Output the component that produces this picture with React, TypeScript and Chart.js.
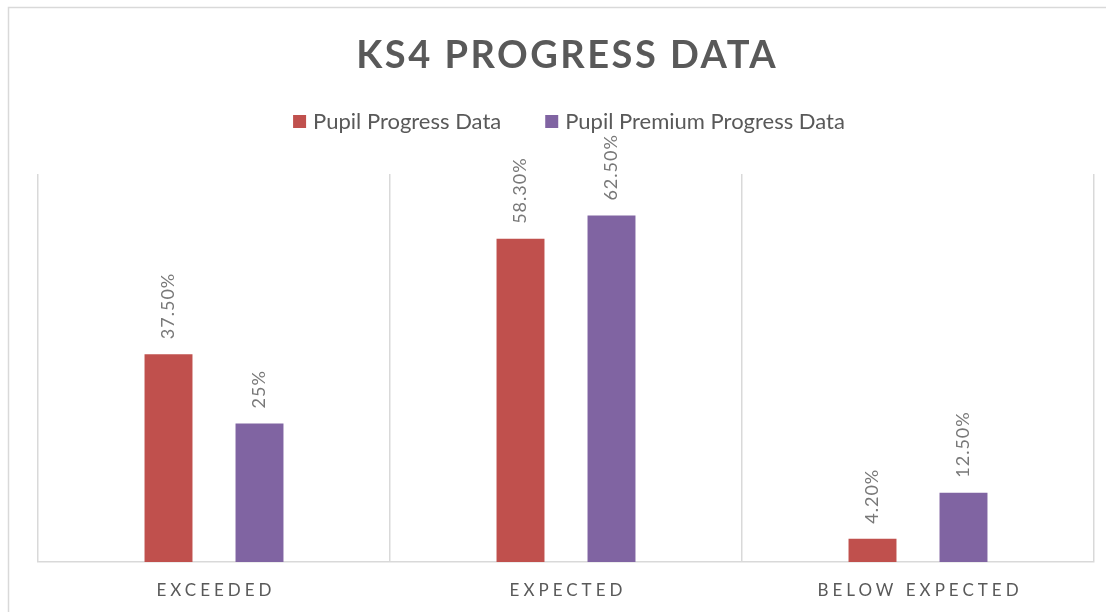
import React, { useEffect, useRef } from "react";
import { Chart, registerables } from "chart.js";

Chart.register(...registerables);

const chartTitle = "KS4 PROGRESS DATA";
const categories = ["EXCEEDED", "EXPECTED", "BELOW EXPECTED"];
const seriesNames = ["Pupil Progress Data", "Pupil Premium Progress Data"];
const pupilProgress = [37.5, 58.3, 4.2];
const pupilPremium = [25, 62.5, 12.5];
const pupilProgressLabels = ["37.50%", "58.30%", "4.20%"];
const pupilPremiumLabels = ["25%", "62.50%", "12.50%"];
const seriesColors = ["#C0504D", "#8064A2"];

const FONT = "Lato, 'Open Sans', sans-serif";
const TEXT = "#595959";
const LABEL = "#787878";
const GRID = "#D9D9D9";

function drawSpaced(ctx: CanvasRenderingContext2D, text: string, x: number, y: number, spacing: number) {
  (ctx as any).letterSpacing = spacing + "px";
  ctx.textAlign = "center";
  ctx.fillText(text, x + spacing / 2, y);
  (ctx as any).letterSpacing = "0px";
}

const decorPlugin = {
  id: "decor",
  afterDraw(chart: any) {
    const ctx: CanvasRenderingContext2D = chart.ctx;
    const area = chart.chartArea;
    ctx.save();
    // outer border
    ctx.strokeStyle = GRID;
    ctx.lineWidth = 1.5;
    ctx.strokeRect(8.5, 7.5, 1130, 640);

    const cx = (area.left + area.right) / 2;
    // title
    ctx.fillStyle = TEXT;
    ctx.font = `bold 38px ${FONT}`;
    ctx.textBaseline = "alphabetic";
    drawSpaced(ctx, chartTitle, cx, 68, 2.5);

    // legend
    ctx.font = `22px ${FONT}`;
    const box = 13;
    const gap = 7;
    const itemGap = 44;
    const widths = seriesNames.map((n) => ctx.measureText(n).width);
    const total = widths.reduce((a, w) => a + box + gap + w, 0) + itemGap * (seriesNames.length - 1);
    let x = cx + 3 - total / 2;
    ctx.textAlign = "left";
    ctx.textBaseline = "middle";
    seriesNames.forEach((n, i) => {
      ctx.fillStyle = seriesColors[i];
      ctx.fillRect(x, 115, box, box);
      x += box + gap;
      ctx.fillStyle = TEXT;
      ctx.fillText(n, x, 122);
      x += widths[i] + itemGap;
    });

    // category labels
    const xs = chart.scales.x;
    ctx.font = `17px ${FONT}`;
    ctx.fillStyle = TEXT;
    ctx.textBaseline = "alphabetic";
    categories.forEach((c, i) => {
      drawSpaced(ctx, c, xs.getPixelForValue(i), 596, 4);
    });
    ctx.restore();
  },
  afterDatasetsDraw(chart: any) {
    const ctx: CanvasRenderingContext2D = chart.ctx;
    const labelSets = [pupilProgressLabels, pupilPremiumLabels];
    ctx.save();
    ctx.font = `18px ${FONT}`;
    ctx.fillStyle = LABEL;
    ctx.textAlign = "left";
    ctx.textBaseline = "middle";
    (ctx as any).letterSpacing = "1px";
    chart.data.datasets.forEach((_: any, di: number) => {
      const meta = chart.getDatasetMeta(di);
      meta.data.forEach((el: any, i: number) => {
        ctx.save();
        ctx.translate(el.x, el.y - 15);
        ctx.rotate(-Math.PI / 2);
        ctx.fillText(labelSets[di][i], 0, 0);
        ctx.restore();
      });
    });
    (ctx as any).letterSpacing = "0px";
    ctx.restore();
  },
};

export default function App() {
  const ref = useRef<HTMLCanvasElement>(null);
  useEffect(() => {
    if (!ref.current) return;
    const chart = new Chart(ref.current, {
      type: "bar",
      data: {
        labels: categories,
        datasets: [
          {
            label: seriesNames[0],
            data: pupilProgress,
            backgroundColor: seriesColors[0],
            categoryPercentage: 0.517,
            barPercentage: 0.527,
          },
          {
            label: seriesNames[1],
            data: pupilPremium,
            backgroundColor: seriesColors[1],
            categoryPercentage: 0.517,
            barPercentage: 0.527,
          },
        ],
      },
      options: {
        responsive: false,
        animation: false,
        layout: { padding: { left: 38, right: 12, top: 174, bottom: 50 } },
        plugins: {
          legend: { display: false },
          title: { display: false },
          tooltip: { enabled: false },
        },
        scales: {
          x: {
            offset: true,
            grid: { display: true, offset: true, color: GRID, lineWidth: 1.5, drawTicks: false },
            border: { display: true, color: GRID, width: 1.5 },
            ticks: { display: false },
          },
          y: {
            display: false,
            min: 0,
            max: 70,
          },
        },
      },
      plugins: [decorPlugin],
    });
    return () => chart.destroy();
  }, []);
  return (
    <div style={{ position: "fixed", left: 0, top: 0, width: 1106, height: 612, background: "#fff" }}>
      <canvas ref={ref} width={1106} height={612} style={{ display: "block" }} />
    </div>
  );
}
